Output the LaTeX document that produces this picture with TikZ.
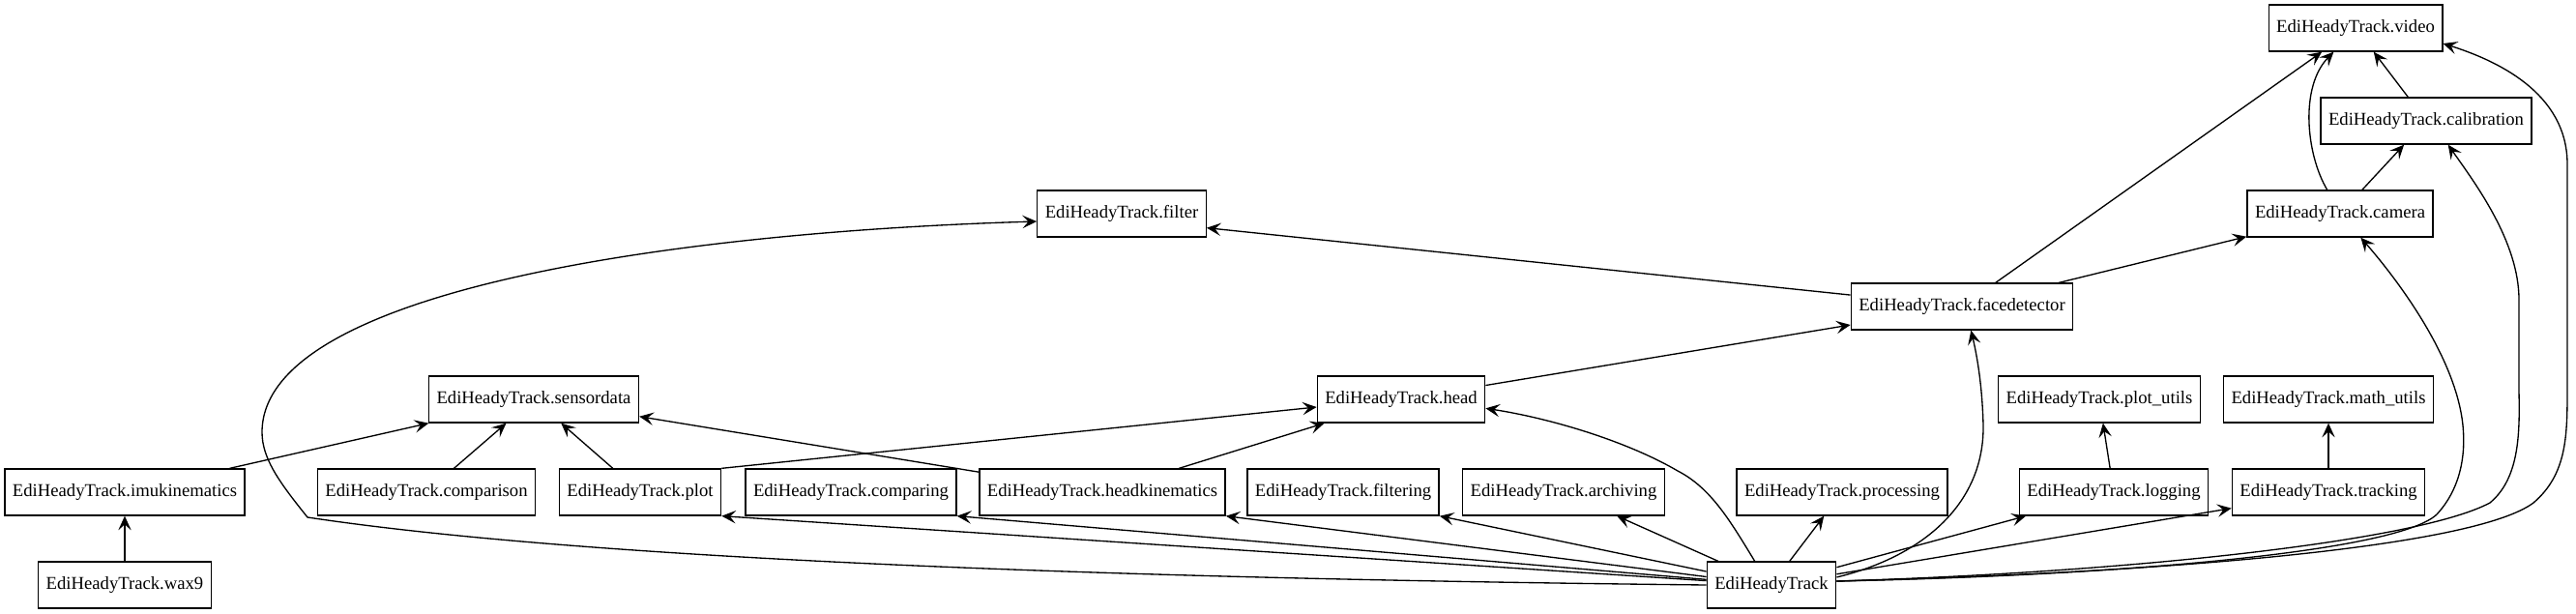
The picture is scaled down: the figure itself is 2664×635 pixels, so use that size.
\documentclass[tikz,border=0pt]{standalone}
\usepackage{fontspec}
\setmainfont{Liberation Serif}
\usetikzlibrary{arrows.meta}

\tikzset{
	module/.style={draw, line width=1pt, minimum height=36pt, inner xsep=6pt, inner ysep=0pt, font=\fontsize{14}{16}\selectfont},
	dep/.style={line width=1pt, -{Stealth[length=11pt, width=10pt, inset=4.5pt]}},
}

\begin{document}
\begin{tikzpicture}[x=0.75pt, y=-0.75pt]
	\useasboundingbox (0,0) rectangle (2664,635);
	% top ranks
	\node[module] (video) at (2436,29) {EdiHeadyTrack.video};
	\node[module] (calib) at (2509,125) {EdiHeadyTrack.calibration};
	\node[module] (filt) at (1160,221) {EdiHeadyTrack.filter};
	\node[module] (cam) at (2420,221) {EdiHeadyTrack.camera};
	\node[module] (fdet) at (2029,317) {EdiHeadyTrack.facedetector};
	% middle rank
	\node[module] (sens) at (552,413) {EdiHeadyTrack.sensordata};
	\node[module] (head) at (1449,413) {EdiHeadyTrack.head};
	\node[module] (putils) at (2171,413) {EdiHeadyTrack.plot\_utils};
	\node[module] (mutils) at (2408,413) {EdiHeadyTrack.math\_utils};
	% lower ranks
	\node[module] (imu) at (129,509) {EdiHeadyTrack.imukinematics};
	\node[module] (cmpn) at (441,509) {EdiHeadyTrack.comparison};
	\node[module] (plt) at (662,509) {EdiHeadyTrack.plot};
	\node[module] (cmpg) at (880,509) {EdiHeadyTrack.comparing};
	\node[module] (hkin) at (1140,509) {EdiHeadyTrack.headkinematics};
	\node[module] (filtg) at (1389,509) {EdiHeadyTrack.filtering};
	\node[module] (arch) at (1617,509) {EdiHeadyTrack.archiving};
	\node[module] (proc) at (1905,509) {EdiHeadyTrack.processing};
	\node[module] (logg) at (2186,509) {EdiHeadyTrack.logging};
	\node[module] (track) at (2408,509) {EdiHeadyTrack.tracking};
	\node[module] (wax) at (129,605) {EdiHeadyTrack.wax9};
	\node[module] (root) at (1832,605) {EdiHeadyTrack};

	\draw[dep] (wax) -- (imu);
	\draw[dep] (imu) -- (sens);
	\draw[dep] (cmpn) -- (sens);
	\draw[dep] (plt) -- (sens);
	\draw[dep] (hkin) -- (sens);
	\draw[dep] (plt.north east) -- ([yshift=-6pt]head.west);
	\draw[dep] (hkin) -- (head);
	\draw[dep] (head) -- (fdet);
	\draw[dep] (fdet) -- ([yshift=-11pt]filt.east);
	\draw[dep] (fdet) -- (video);
	\draw[dep] (fdet) -- (cam);
	\draw[dep] (cam) -- (calib);
	\draw[dep] (calib) -- (video);
	\draw[dep] ([xshift=-10pt]cam.north) .. controls (2385,160) and (2378,90) .. ([xshift=-17pt]video.south);
	\draw[dep] (logg) -- (putils);
	\draw[dep] (track) -- (mutils);
	\draw[dep] (root) -- (proc);
	\draw[dep] (root) -- (logg);
	\draw[dep] (root) -- (track);
	\draw[dep] (root) -- (arch);
	\draw[dep] (root) -- (filtg.south east);
	\draw[dep] (root) -- (hkin.south east);
	\draw[dep] (root) -- (cmpg.south east);
	\draw[dep] (root) -- (plt.south east);

	% long curves out of the root package
	\draw[dep] ([xshift=-13pt]root.north) .. controls (1790,540) and (1770,505) .. (1735,487)
		.. controls (1680,455) and (1600,432) .. ([yshift=-7pt]head.east);
	\draw[dep] ([yshift=6pt]root.east) .. controls (1990,575) and (2052,520) .. (2051,440)
		.. controls (2050,400) and (2045,370) .. ([xshift=7pt]fdet.south);
	\draw[dep] ([yshift=3pt]root.east) .. controls (2200,595) and (2480,570) .. (2520,532)
		.. controls (2545,505) and (2550,470) .. (2547,440)
		.. controls (2540,370) and (2480,290) .. ([xshift=16pt]cam.south);
	\draw[dep] ([yshift=3pt]root.east) .. controls (2200,592) and (2500,560) .. (2575,520)
		.. controls (2605,495) and (2606,450) .. (2605,405) -- (2605,310)
		.. controls (2605,250) and (2560,190) .. ([xshift=17pt]calib.south);
	\draw[dep] ([yshift=3pt]root.east) .. controls (2250,592) and (2560,565) .. (2620,520)
		.. controls (2655,490) and (2655,450) .. (2655,400) -- (2655,170)
		.. controls (2655,95) and (2580,62) .. ([yshift=-12pt]video.east);
	\draw[dep] (root.west) .. controls (1300,600) and (650,585) .. (318,535)
		.. controls (290,500) and (271,475) .. (271,447)
		.. controls (271,300) and (700,240) .. ([yshift=-6pt]filt.west);
\end{tikzpicture}
\end{document}
